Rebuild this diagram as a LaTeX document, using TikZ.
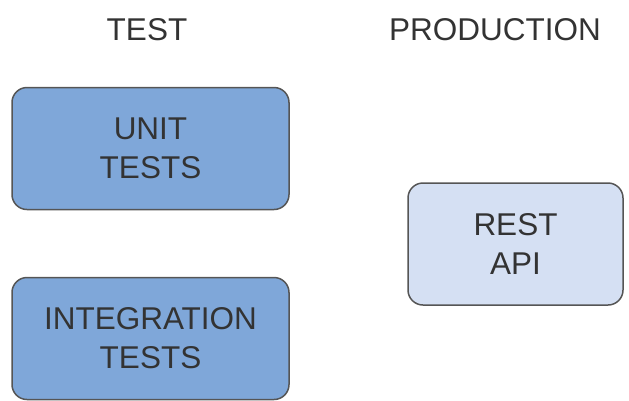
\documentclass[tikz,border=0pt]{standalone}
\usepackage{fontspec}
\setmainfont{Liberation Sans}
\definecolor{darkfill}{HTML}{7FA7D9}
\definecolor{lightfill}{HTML}{D5E0F3}
\definecolor{edge}{HTML}{555555}
\definecolor{txt}{HTML}{333333}
\begin{document}
\begin{tikzpicture}[x=1pt,y=-1pt,
  lbl/.style={text=txt,font=\fontsize{31.5}{39}\selectfont,align=center,inner sep=0pt},
  box/.style={lbl,draw=edge,line width=1.5pt,rounded corners=15pt,minimum width=#1,minimum height=122pt},
  darkbox/.style={box=277pt,fill=darkfill},
  lightbox/.style={box=215pt,fill=lightfill}]
\useasboundingbox (0,0) rectangle (629,400);
\node[lbl] (htest) at (147,30) {TEST};
\node[lbl] (hprod) at (495,30) {PRODUCTION};
\node[darkbox] (unit) at (150.5,148.5) {UNIT\\TESTS};
\node[darkbox] (integ) at (150.5,338.5) {INTEGRATION\\TESTS};
\node[lightbox] (rest) at (515.5,244) {REST\\API};
\end{tikzpicture}
\end{document}
